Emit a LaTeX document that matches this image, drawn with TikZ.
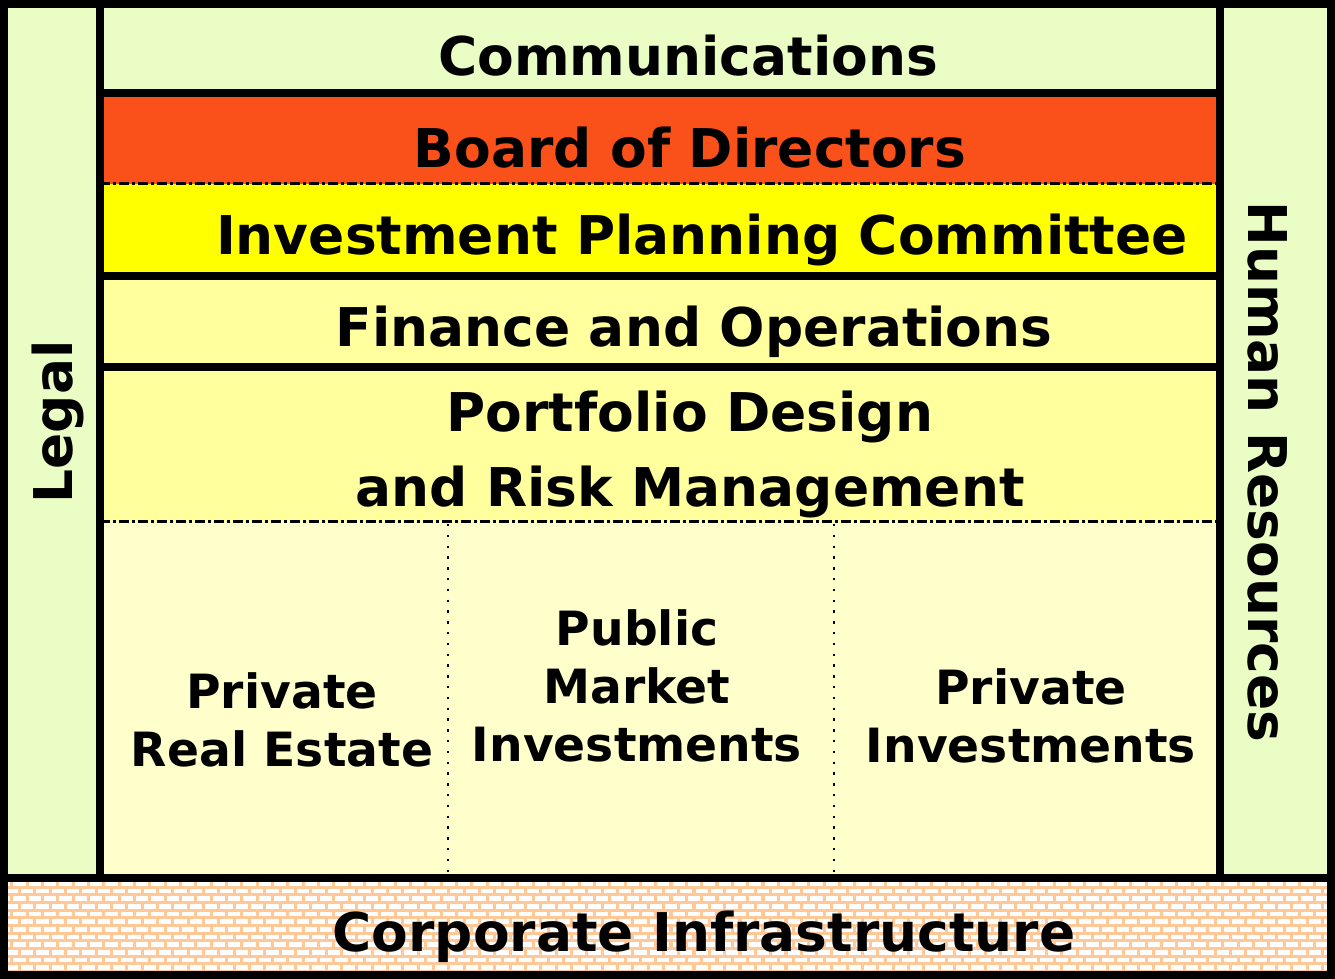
\documentclass[tikz,border=0pt]{standalone}
\usepackage{fontspec}
\setmainfont{DejaVu Sans}
\usetikzlibrary{calc}

\definecolor{sideGreen}{HTML}{E9FDC5}
\definecolor{boardRed}{HTML}{FA501A}
\definecolor{ipcYellow}{HTML}{FFFF00}
\definecolor{paleYellow}{HTML}{FFFF9E}
\definecolor{creamYellow}{HTML}{FFFFCC}
\definecolor{mortar}{HTML}{FFC896}

\tikzset{
  bandtext/.style={font=\bfseries\fontsize{26.7}{37.5}\selectfont, align=center, inner sep=0pt},
  unittext/.style={font=\bfseries\fontsize{23.6}{29}\selectfont, align=center, inner sep=0pt},
  frame/.style={line width=3.8pt},
  divider/.style={line width=4pt},
  dashdot/.style={line width=1.5pt, dash pattern=on 5pt off 1.5pt on 1.5pt off 1.5pt},
  dotline/.style={line width=1.2pt, dash pattern=on 1.2pt off 4.2pt}
}

\begin{document}
\begin{tikzpicture}[x=0.5pt,y=-0.5pt]
\useasboundingbox (0,0) rectangle (1335,979);
% corners of the main frame and the side columns
\coordinate (A) at (4,4); \coordinate (B) at (1331,4); \coordinate (C) at (1331,878); \coordinate (D) at (4,878);
\coordinate (L) at (100,4); \coordinate (R) at (1220,4);
% fills
\fill[sideGreen] (A) rectangle (1220,93);
\fill[sideGreen] (A) rectangle (100,878);
\fill[sideGreen] (R) rectangle (C);
\fill[boardRed] (100,93) rectangle (1220,184);
\fill[ipcYellow] (100,184) rectangle (1220,276);
\fill[paleYellow] (100,276) rectangle (1220,521);
\fill[creamYellow] (100,521) rectangle (1220,878);
% brick wall of the infrastructure band
\begin{scope}
\clip (4,878) rectangle (1331,975);
\fill[mortar] (4,878) rectangle (1331,975);
\foreach \r in {0,...,12}{
  \foreach \c in {0,...,88}{
    \pgfmathsetmacro\bx{-2+\c*15.33+mod(\r,2)*7.67}
    \pgfmathsetmacro\by{881+\r*7.67}
    \fill[white] (\bx,\by) rectangle ++(12.3,4.6);
  }
}
\end{scope}
% separators
\draw[divider] (L)--(100,878);
\draw[divider] (R)--(1220,878);
\draw[divider] (100,93)--(1220,93);
\draw[dashdot] (100,184)--(1220,184);
\draw[divider] (100,276)--(1220,276);
\draw[divider] (100,367)--(1220,367);
\draw[dashdot] (100,521)--(1220,521);
\draw[dotline] (448,524)--(448,878);
\draw[dotline] (834,524)--(834,878);
\draw[frame] (A)--(B)--(C)--(D)--cycle;
\draw[frame] (4,878) rectangle (1331,975);
% labels
\node[bandtext] (comm) at (688,56) {Communications};
\node[bandtext] (board) at (690,148) {Board of Directors};
\node[bandtext] (ipc) at (702,240) {Investment Planning Committee};
\node[bandtext] (finops) at (694,332) {Finance and Operations};
\node[bandtext] (pdrm) at (690,454) {Portfolio Design\\and Risk Management};
\node[unittext] (pre) at (282,720) {Private\\Real Estate};
\node[unittext] (pmi) at (637,686) {Public\\Market\\Investments};
\node[unittext] (pi) at (1031,716) {Private\\Investments};
\node[bandtext, rotate=90] (legal) at (58,422) {Legal};
\node[bandtext, rotate=-90] (hr) at (1268,472) {Human Resources};
\node[bandtext] (infra) at (704,937) {Corporate Infrastructure};
\end{tikzpicture}
\end{document}
